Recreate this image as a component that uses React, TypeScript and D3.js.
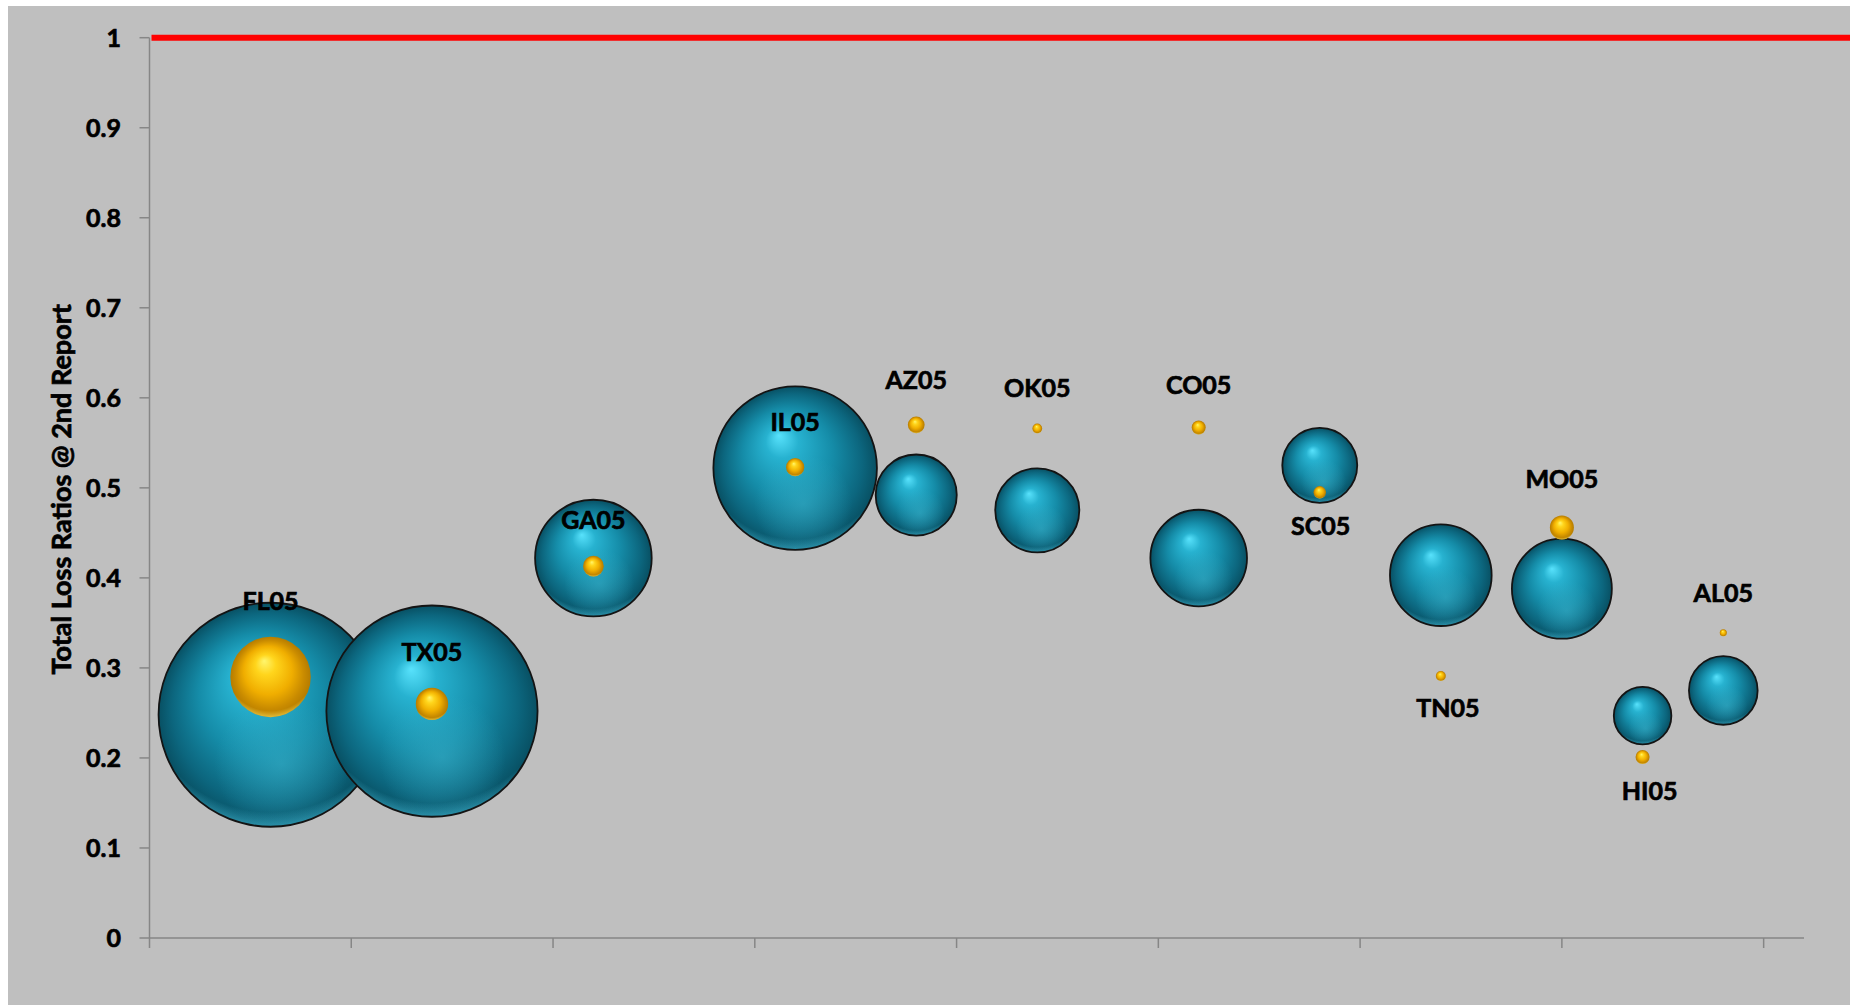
import React from "react";
import * as d3 from "d3";

// Program codes shown on the bubbles
const programs = ["FL05", "TX05", "GA05", "IL05", "AZ05", "OK05", "CO05", "SC05", "TN05", "MO05", "HI05", "AL05"];
// Horizontal position of each program
const programX = [0.6, 1.4, 2.2, 3.2, 3.8, 4.4, 5.2, 5.8, 6.4, 7.0, 7.4, 7.8];
// Large (teal) series: loss ratio and bubble size
const tealRatio = [0.248, 0.252, 0.422, 0.522, 0.492, 0.475, 0.422, 0.525, 0.403, 0.388, 0.247, 0.275];
const tealSize = [100, 88.9, 27.1, 53.3, 13.1, 14.1, 18.6, 11.2, 20.6, 19.9, 6.6, 9.4];
// Small (gold) series: loss ratio and bubble size
const goldRatio = [0.29, 0.26, 0.413, 0.523, 0.57, 0.566, 0.567, 0.495, 0.291, 0.456, 0.201, 0.339];
const goldSize = [12.9, 2.09, 0.85, 0.66, 0.56, 0.19, 0.39, 0.31, 0.2, 1.15, 0.39, 0.1];
// Reference ratio drawn as the red line
const targetRatio = 1;
const yTicks = [0, 0.1, 0.2, 0.3, 0.4, 0.5, 0.6, 0.7, 0.8, 0.9, 1];
const yTickLabels = ["0", "0.1", "0.2", "0.3", "0.4", "0.5", "0.6", "0.7", "0.8", "0.9", "1"];
const xTicks = [0, 1, 2, 3, 4, 5, 6, 7, 8];
const yTitle = "Total Loss Ratios @ 2nd Report";

// Label placement relative to the gold bubble
const labelSide = ["above", "above", "above", "above", "above", "above", "above", "below", "below", "above", "below", "above"];
const labelDx = [0, 0, 0, 0, 0, 0, 0, 1, 7, 0, 7, 0];

const W = 1850;
const H = 1005;
const FONT = "Lato, 'Open Sans', 'DejaVu Sans', sans-serif";

export default function App() {
  const x = d3.scaleLinear().domain([0, 8.2]).range([149.5, 1804]);
  const y = d3.scaleLinear().domain([0, 1]).range([938, 37.7]);
  const r = d3.scaleSqrt().domain([0, 100]).range([0, 112]);
  const axisColor = "#868686";

  const teal = programs.map((p, i) => ({ p, cx: x(programX[i]), cy: y(tealRatio[i]), r: r(tealSize[i]) }));
  const gold = programs.map((p, i) => ({ p, cx: x(programX[i]), cy: y(goldRatio[i]), r: r(goldSize[i]) }));

  const boldText = { fontWeight: 700, fill: "#000", stroke: "#000", strokeWidth: 0.7 } as const;

  return (
    <svg
      width={W}
      height={H}
      style={{ position: "absolute", left: 0, top: 0, display: "block" }}
      fontFamily={FONT}
    >
      <defs>
        <radialGradient id="tealBase" cx="0.5" cy="0.5" r="0.5" fx="0.4" fy="0.3">
          <stop offset="0" stopColor="#58E2FC" />
          <stop offset="0.2" stopColor="#27B2D0" />
          <stop offset="0.55" stopColor="#158CA8" />
          <stop offset="0.85" stopColor="#0C667E" />
          <stop offset="1" stopColor="#085063" />
        </radialGradient>
        <radialGradient id="tealGlow" cx="0.55" cy="0.72" r="0.3">
          <stop offset="0" stopColor="#3DB6CF" stopOpacity="0.5" />
          <stop offset="1" stopColor="#3DB6CF" stopOpacity="0" />
        </radialGradient>
        <radialGradient id="tealRim" cx="0.5" cy="0.35" r="0.68">
          <stop offset="0.86" stopColor="#4CCDEB" stopOpacity="0" />
          <stop offset="1" stopColor="#4CCDEB" stopOpacity="0.75" />
        </radialGradient>
        <radialGradient id="goldBase" cx="0.5" cy="0.5" r="0.5" fx="0.42" fy="0.3">
          <stop offset="0" stopColor="#FFF66E" />
          <stop offset="0.25" stopColor="#FFD51C" />
          <stop offset="0.6" stopColor="#F0AE00" />
          <stop offset="0.85" stopColor="#C98B00" />
          <stop offset="1" stopColor="#B57C00" />
        </radialGradient>
        <radialGradient id="goldRim" cx="0.5" cy="0.35" r="0.68">
          <stop offset="0.84" stopColor="#FFE45A" stopOpacity="0" />
          <stop offset="1" stopColor="#FFE45A" stopOpacity="0.85" />
        </radialGradient>
      </defs>

      <rect x={0} y={0} width={W} height={H} fill="#ffffff" />
      <rect x={8} y={6} width={W - 8} height={H - 6} fill="#BFBFBF" />

      {/* Y axis */}
      <line x1={x(0)} x2={x(0)} y1={y(0)} y2={y(1)} stroke={axisColor} strokeWidth={1.5} />
      {yTicks.map((t, i) => (
        <g key={"yt" + i}>
          <line x1={x(0) - 10} x2={x(0)} y1={y(t)} y2={y(t)} stroke={axisColor} strokeWidth={1.5} />
          <text x={121} y={y(t)} dy="0.36em" textAnchor="end" fontSize={25} {...boldText}>
            {yTickLabels[i]}
          </text>
        </g>
      ))}
      <text
        transform={`translate(61.5, ${(y(0) + y(1)) / 2 + 1.5}) rotate(-90)`}
        textAnchor="middle"
        dy="0.35em"
        fontSize={27}
        {...boldText}
      >
        {yTitle}
      </text>

      {/* X axis */}
      <line x1={x(0)} x2={x(8.2)} y1={y(0)} y2={y(0)} stroke={axisColor} strokeWidth={1.5} />
      {xTicks.map((t) => (
        <line key={"xt" + t} x1={x(t)} x2={x(t)} y1={y(0)} y2={y(0) + 10} stroke={axisColor} strokeWidth={1.5} />
      ))}

      {/* Reference line */}
      <line x1={x(0) + 2} x2={W} y1={y(targetRatio)} y2={y(targetRatio)} stroke="#FF0000" strokeWidth={6} />

      {/* Teal bubbles */}
      {teal.map((b) => (
        <g key={"t" + b.p}>
          <circle cx={b.cx} cy={b.cy} r={b.r} fill="url(#tealBase)" />
          <circle cx={b.cx} cy={b.cy} r={b.r} fill="url(#tealGlow)" />
          <circle cx={b.cx} cy={b.cy} r={b.r} fill="url(#tealRim)" stroke="#141414" strokeWidth={1.8} />
        </g>
      ))}

      {/* Gold bubbles */}
      {gold.map((b) => (
        <g key={"g" + b.p}>
          <circle cx={b.cx} cy={b.cy} r={b.r} fill="url(#goldBase)" />
          <circle cx={b.cx} cy={b.cy} r={b.r} fill="url(#goldRim)" />
        </g>
      ))}

      {/* Program labels */}
      {gold.map((b, i) => {
        const ly = labelSide[i] === "above" ? b.cy - b.r - 36 : b.cy + b.r + 27;
        return (
          <text
            key={"l" + b.p}
            x={b.cx + labelDx[i]}
            y={ly}
            dy="0.36em"
            textAnchor="middle"
            fontSize={25}
            {...boldText}
          >
            {b.p}
          </text>
        );
      })}
    </svg>
  );
}
